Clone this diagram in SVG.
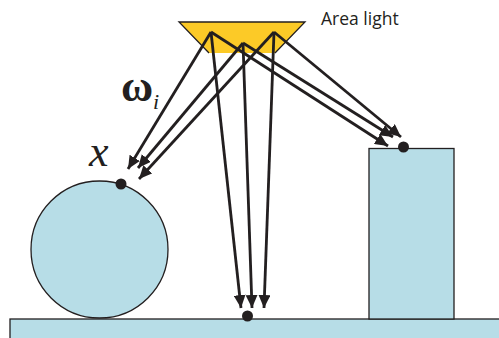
<svg xmlns="http://www.w3.org/2000/svg" width="499" height="338" viewBox="0 0 499 338">
<defs>
<style>
.obj{fill:#b7dde7;stroke:#231f20;stroke-width:1.3}
.ray{stroke:#231f20;stroke-width:2.8;fill:none;marker-end:url(#ah)}
.dot{fill:#231f20}
.lbl{font-family:"Liberation Serif","DejaVu Serif",serif;fill:#231f20}
</style>
<marker id="ah" markerUnits="userSpaceOnUse" markerWidth="14" markerHeight="12" viewBox="0 0 14 12" refX="13" refY="6" orient="auto">
<path d="M0,0 L13,6 L0,12 Z" fill="#231f20"/>
</marker>
</defs>
<rect width="499" height="338" fill="#fff"/>
<g id="floor"><rect class="obj" x="10" y="319" width="495" height="30"/></g>
<g id="sphere"><circle class="obj" cx="99.5" cy="249.5" r="68.5"/></g>
<g id="box"><rect class="obj" x="369" y="148.5" width="85" height="170.5"/></g>
<g id="light">
<path d="M179,22 L305,22 L275,53 L209,53 Z" fill="#fcca27"/>
<path d="M209,53 L179,22 L305,22 L275,53" fill="none" stroke="#231f20" stroke-width="1.3"/>
</g>
<g id="connectors">
<line class="ray" x1="211" y1="32" x2="128" y2="169"/>
<line class="ray" x1="243" y1="43" x2="138" y2="168"/>
<line class="ray" x1="274" y1="32" x2="139" y2="179"/>
<line class="ray" x1="211" y1="32" x2="241" y2="308"/>
<line class="ray" x1="243" y1="43" x2="252" y2="308"/>
<line class="ray" x1="274" y1="32" x2="264" y2="308"/>
<line class="ray" x1="211" y1="32" x2="388" y2="146"/>
<line class="ray" x1="243" y1="43" x2="393" y2="137"/>
<line class="ray" x1="274" y1="32" x2="401" y2="137"/>
</g>
<g id="points">
<circle class="dot" cx="121" cy="184" r="5.5"/>
<circle class="dot" cx="247.5" cy="316" r="5.5"/>
<circle class="dot" cx="403.5" cy="147" r="5.5"/>
</g>
<g id="labels">
<text x="321" y="25" font-family="'Open Sans','Liberation Sans',sans-serif" font-size="17.5" fill="#231f20">Area light</text>
<text class="lbl" x="121" y="101" font-size="44" font-weight="bold">ω</text>
<text class="lbl" x="153" y="109" font-size="22" font-style="italic">i</text>
<text class="lbl" x="89" y="166" font-size="44" font-style="italic">x</text>
</g>
</svg>
